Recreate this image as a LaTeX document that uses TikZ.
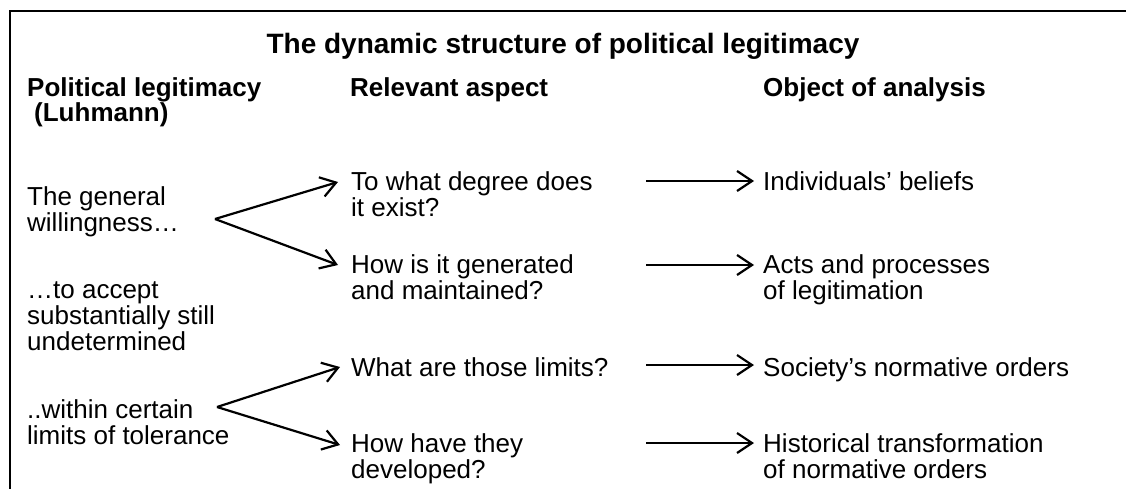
\documentclass[tikz,border=0pt]{standalone}
\usepackage{fontspec}
\setmainfont{Liberation Sans}
\usetikzlibrary{arrows.meta}
\begin{document}
\begin{tikzpicture}[x=1pt,y=-1pt,
  % multi-line nodes are placed by the baseline of their last line
  txt/.style={anchor=base west,inner sep=0pt,align=left,
    font=\fontsize{26}{26}\selectfont},
  head/.style={txt,font=\fontsize{26}{25}\selectfont\bfseries},
  ttl/.style={anchor=base,inner sep=0pt,font=\fontsize{28}{30}\selectfont\bfseries},
  frame/.style={line width=2.4pt},
  link/.style={line width=2.2pt,-{Straight Barb[length=15pt,width=20pt,line width=2.2pt]}}]
\useasboundingbox (0,0) rectangle (1126,488);
% outer frame (left and top edges)
\draw[frame] (10,500) -- (10,11) -- (1140,11);

% title and column headings
\node[ttl] (title) at (563,53) {The dynamic structure of political legitimacy};
\node[head] (h1) at (27,121) {Political legitimacy\\\hspace*{7pt}(Luhmann)};
\node[head] (h2) at (350,96) {Relevant aspect};
\node[head] (h3) at (763,96) {Object of analysis};

% Luhmann's definition, in three parts
\node[txt] (l1) at (27,231) {The general\\willingness…};
\node[txt] (l2) at (27,350) {…to accept\\substantially still\\undetermined};
\node[txt] (l3) at (27,444) {..within certain\\limits of tolerance};

% relevant aspects
\node[txt] (m1) at (351,216) {To what degree does\\it exist?};
\node[txt] (m2) at (351,299) {How is it generated\\and maintained?};
\node[txt] (m3) at (351,376) {What are those limits?};
\node[txt] (m4) at (351,478) {How have they\\developed?};

% objects of analysis
\node[txt] (r1) at (763,190) {Individuals’ beliefs};
\node[txt] (r2) at (763,299) {Acts and processes\\of legitimation};
\node[txt] (r3) at (763,376) {Society’s normative orders};
\node[txt] (r4) at (763,478) {Historical transformation\\of normative orders};

% branching points and arrow ends
\coordinate (f1) at (215,219);
\coordinate (f2) at (217,407);
\coordinate (m1in) at (338,182);
\coordinate (m2in) at (338,265);
\coordinate (m3in) at (340,367);
\coordinate (m4in) at (340,445);
\coordinate (m1out) at (646,181);
\coordinate (m2out) at (646,265);
\coordinate (m3out) at (646,365);
\coordinate (m4out) at (646,443);
\coordinate (r1in) at (754,181);
\coordinate (r2in) at (754,265);
\coordinate (r3in) at (754,365);
\coordinate (r4in) at (754,443);

% forks from the definition to the aspects
\draw[link] (f1) -- (m1in);
\draw[link] (f1) -- (m2in);
\draw[link] (f2) -- (m3in);
\draw[link] (f2) -- (m4in);

% aspects to objects of analysis
\draw[link] (m1out) -- (r1in);
\draw[link] (m2out) -- (r2in);
\draw[link] (m3out) -- (r3in);
\draw[link] (m4out) -- (r4in);
\end{tikzpicture}
\end{document}
